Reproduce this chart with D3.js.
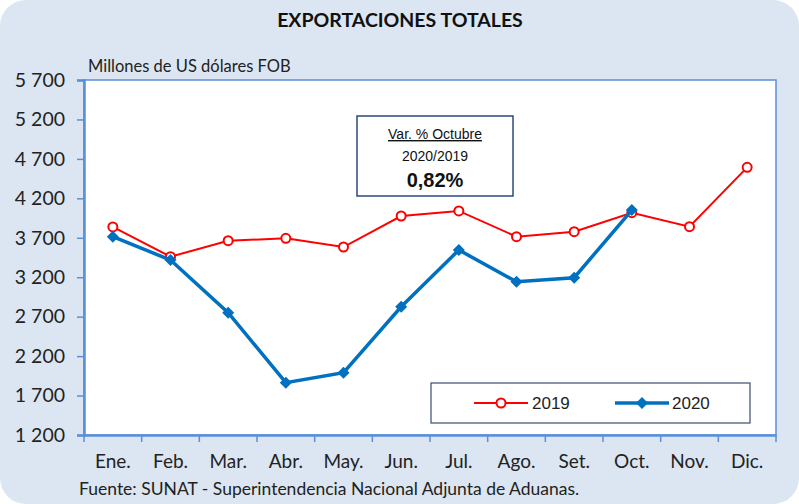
<!DOCTYPE html>
<html>
<head>
<meta charset="utf-8">
<script src="https://cdn.jsdelivr.net/npm/d3@7"></script>
<style>
  html, body { margin: 0; padding: 0; background: #fff; }
  svg { display: block; }
</style>
</head>
<body>
<div id="chart"></div>
<script>
  // datos (millones de US$ FOB)
  var months = ['Ene.', 'Feb.', 'Mar.', 'Abr.', 'May.', 'Jun.', 'Jul.', 'Ago.', 'Set.', 'Oct.', 'Nov.', 'Dic.'];
  var exp2019 = [3837, 3460, 3663, 3693, 3583, 3976, 4040, 3714, 3777, 4018, 3840, 4593];
  var exp2020 = [3714, 3418, 2750, 1863, 1990, 2826, 3545, 3143, 3194, 4051];
  var yTicks = [1200, 1700, 2200, 2700, 3200, 3700, 4200, 4700, 5200, 5700];

  var W = 799, H = 504;
  var plot = { left: 84, top: 80, right: 776, bottom: 435 };
  var calibri = 'Lato, "Open Sans", sans-serif';
  var arial = 'Arial, "Liberation Sans", sans-serif';

  var svg = d3.select('#chart').append('svg')
    .attr('width', W).attr('height', H);

  svg.append('rect')
    .attr('x', 0).attr('y', 0).attr('width', W).attr('height', H)
    .attr('rx', 26).attr('fill', '#dce6f2');

  svg.append('text')
    .attr('x', 400).attr('y', 27)
    .attr('text-anchor', 'middle')
    .style('font-family', calibri).style('font-weight', 'bold').style('font-size', '19.5px')
    .attr('fill', '#111')
    .text('EXPORTACIONES TOTALES');

  svg.append('text')
    .attr('x', 88).attr('y', 72)
    .style('font-family', calibri).style('font-size', '16.5px')
    .attr('fill', '#222')
    .text('Millones de US dólares FOB');

  var x = d3.scaleBand().domain(months).range([plot.left, plot.right]);
  var y = d3.scaleLinear().domain([1200, 5700]).range([plot.bottom, plot.top]);

  svg.append('rect')
    .attr('x', plot.left).attr('y', plot.top)
    .attr('width', plot.right - plot.left).attr('height', plot.bottom - plot.top)
    .attr('fill', '#fff').attr('stroke', '#5b8fd8').attr('stroke-width', 1.5);

  // eje Y
  var yAxis = svg.append('g')
    .attr('transform', 'translate(' + plot.left + ',0)')
    .call(d3.axisLeft(y).tickValues(yTicks).tickSize(7).tickPadding(12)
      .tickFormat(function (d) { return d3.format(',')(d).replace(',', ' '); }));
  yAxis.select('.domain').attr('stroke', '#5b8fd8').attr('stroke-width', 2.5);
  yAxis.selectAll('.tick line').attr('stroke', '#5b8fd8').attr('stroke-width', 1.5);
  yAxis.selectAll('text')
    .style('font-family', calibri).style('font-size', '19.5px').attr('fill', '#222');

  // eje X
  var xAxis = svg.append('g')
    .attr('transform', 'translate(0,' + plot.bottom + ')')
    .call(d3.axisBottom(x).tickSize(0).tickPadding(20));
  xAxis.select('.domain').attr('stroke', '#5b8fd8').attr('stroke-width', 2.5);
  xAxis.selectAll('text')
    .style('font-family', calibri).style('font-size', '19px').attr('fill', '#222');
  xAxis.selectAll('.sep')
    .data(months.concat(['_end']))
    .enter().append('line')
    .attr('class', 'sep')
    .attr('x1', function (d, i) { return plot.left + i * x.step(); })
    .attr('x2', function (d, i) { return plot.left + i * x.step(); })
    .attr('y1', 0).attr('y2', 7)
    .attr('stroke', '#5b8fd8').attr('stroke-width', 1.5);

  var cx = function (d, i) { return x(months[i]) + x.bandwidth() / 2; };
  var line = d3.line().x(cx).y(function (d) { return y(d); });

  // 2019
  svg.append('path').datum(exp2019)
    .attr('d', line).attr('fill', 'none')
    .attr('stroke', '#ff0000').attr('stroke-width', 2);
  svg.selectAll('.p19').data(exp2019).enter().append('circle')
    .attr('class', 'p19')
    .attr('cx', cx).attr('cy', function (d) { return y(d); })
    .attr('r', 4.5).attr('fill', '#fff')
    .attr('stroke', '#ff0000').attr('stroke-width', 2);

  // 2020 (rombo = cuadrado girado 45°)
  var diamond = d3.symbol().type(d3.symbolSquare).size(72);
  svg.append('path').datum(exp2020)
    .attr('d', line).attr('fill', 'none')
    .attr('stroke', '#0070c0').attr('stroke-width', 3.5);
  svg.selectAll('.p20').data(exp2020).enter().append('path')
    .attr('class', 'p20')
    .attr('d', diamond)
    .attr('transform', function (d, i) { return 'translate(' + cx(d, i) + ',' + y(d) + ') rotate(45)'; })
    .attr('fill', '#0070c0');

  // recuadro de variación
  var box = svg.append('g');
  box.append('rect')
    .attr('x', 357).attr('y', 116).attr('width', 156).attr('height', 80)
    .attr('fill', '#fff').attr('stroke', '#2f4a7d').attr('stroke-width', 1.5);
  box.append('text')
    .attr('x', 435).attr('y', 139).attr('text-anchor', 'middle')
    .style('font-family', arial).style('font-size', '14px')
    .style('text-decoration', 'underline').attr('fill', '#111')
    .text('Var. % Octubre');
  box.append('text')
    .attr('x', 435).attr('y', 161).attr('text-anchor', 'middle')
    .style('font-family', arial).style('font-size', '14px')
    .attr('fill', '#111')
    .text('2020/2019');
  box.append('text')
    .attr('x', 435).attr('y', 187).attr('text-anchor', 'middle')
    .style('font-family', arial).style('font-size', '20px')
    .style('font-weight', 'bold').attr('fill', '#111')
    .text('0,82%');

  // leyenda
  var leg = svg.append('g');
  leg.append('rect')
    .attr('x', 431).attr('y', 383).attr('width', 319).attr('height', 40)
    .attr('fill', '#fff').attr('stroke', '#3b4e6e').attr('stroke-width', 1.2);
  leg.append('line').attr('x1', 474).attr('x2', 528).attr('y1', 403).attr('y2', 403)
    .attr('stroke', '#ff0000').attr('stroke-width', 2);
  leg.append('circle').attr('cx', 501).attr('cy', 403).attr('r', 4.5)
    .attr('fill', '#fff').attr('stroke', '#ff0000').attr('stroke-width', 2);
  leg.append('text').attr('x', 532).attr('y', 409)
    .style('font-family', arial).style('font-size', '17px')
    .attr('fill', '#222').text('2019');
  leg.append('line').attr('x1', 615).attr('x2', 669).attr('y1', 403).attr('y2', 403)
    .attr('stroke', '#0070c0').attr('stroke-width', 3.5);
  leg.append('path').attr('d', diamond).attr('transform', 'translate(642,403) rotate(45)')
    .attr('fill', '#0070c0');
  leg.append('text').attr('x', 672).attr('y', 409)
    .style('font-family', arial).style('font-size', '17px')
    .attr('fill', '#222').text('2020');

  svg.append('text')
    .attr('x', 79).attr('y', 495)
    .style('font-family', calibri).style('font-size', '17.5px')
    .attr('fill', '#222')
    .text('Fuente: SUNAT - Superintendencia Nacional Adjunta de Aduanas.');
</script>
</body>
</html>
